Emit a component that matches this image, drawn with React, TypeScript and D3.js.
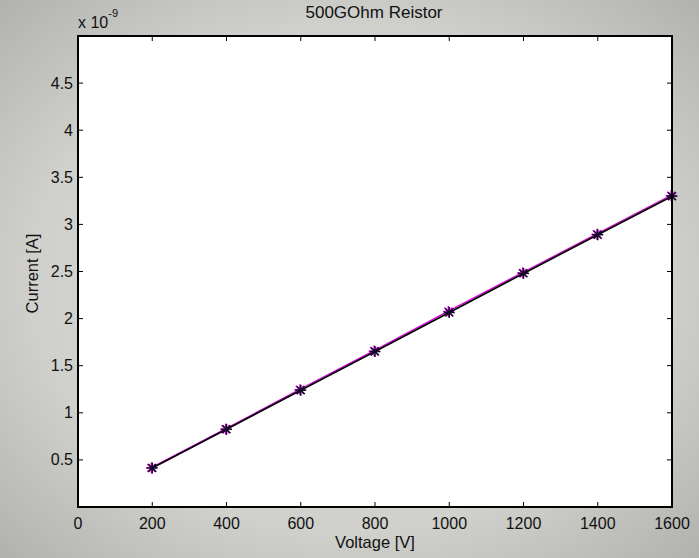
import React from "react";
import * as d3 from "d3";

const voltages = [200, 400, 600, 800, 1000, 1200, 1400, 1600];
const currentMeasured = [0.41, 0.82, 1.24, 1.65, 2.07, 2.48, 2.89, 3.30];
const currentFit = [0.415, 0.825, 1.24, 1.65, 2.065, 2.48, 2.89, 3.30];
const xTicks = [0, 200, 400, 600, 800, 1000, 1200, 1400, 1600];
const yTicks = [0.5, 1, 1.5, 2, 2.5, 3, 3.5, 4, 4.5];

const W = 699, H = 558;
const L = 78, R = 672, T = 36, B = 507;

function Star({ cx, cy, color, w }: { cx: number; cy: number; color: string; w: number }) {
  const r = 5.5;
  const d = r * 0.72;
  return (
    <g stroke={color} strokeWidth={w}>
      <line x1={cx - r} y1={cy} x2={cx + r} y2={cy} />
      <line x1={cx} y1={cy - r} x2={cx} y2={cy + r} />
      <line x1={cx - d} y1={cy - d} x2={cx + d} y2={cy + d} />
      <line x1={cx - d} y1={cy + d} x2={cx + d} y2={cy - d} />
    </g>
  );
}

export default function App() {
  const x = d3.scaleLinear().domain([0, 1600]).range([L, R]);
  const y = d3.scaleLinear().domain([0, 5]).range([B, T]);
  const line = d3
    .line<number>()
    .x((_, i) => x(voltages[i]))
    .y((v) => y(v));
  const font = "'Liberation Sans', Arial, sans-serif";
  const tick = 5;
  return (
    <div style={{ position: "absolute", left: 0, top: 0 }}>
      <svg width={W} height={H} style={{ display: "block" }}>
        <defs>
          <radialGradient id="bg" cx="50%" cy="50%" r="75%">
            <stop offset="0%" stopColor="#d8d8d4" />
            <stop offset="60%" stopColor="#d0d0cc" />
            <stop offset="100%" stopColor="#acacaa" />
          </radialGradient>
        </defs>
        <rect x={0} y={0} width={W} height={H} fill="url(#bg)" />
        <rect x={L} y={T} width={R - L} height={B - T} fill="#ffffff" />

        {/* ticks */}
        <g stroke="#000" strokeWidth={1}>
          {xTicks.map((t) => (
            <g key={"xt" + t}>
              <line x1={x(t)} x2={x(t)} y1={B} y2={B - tick} />
              <line x1={x(t)} x2={x(t)} y1={T} y2={T + tick} />
            </g>
          ))}
          {yTicks.map((t) => (
            <g key={"yt" + t}>
              <line x1={L} x2={L + tick} y1={y(t)} y2={y(t)} />
              <line x1={R} x2={R - tick} y1={y(t)} y2={y(t)} />
            </g>
          ))}
        </g>

        {/* data */}
        <path d={line(currentMeasured) || ""} fill="none" stroke="#e000e0" strokeWidth={1.3} transform="translate(-0.9,-0.9)" />
        {voltages.map((v, i) => (
          <Star key={"m" + v} cx={x(v) - 0.9} cy={y(currentMeasured[i]) - 0.5} color="#e000e0" w={1.4} />
        ))}
        <path d={line(currentFit) || ""} fill="none" stroke="#000000" strokeWidth={1.7} />
        {voltages.map((v, i) => (
          <Star key={"f" + v} cx={x(v)} cy={y(currentFit[i])} color="#120828" w={1.5} />
        ))}

        {/* frame */}
        <rect x={L} y={T} width={R - L} height={B - T} fill="none" stroke="#000" strokeWidth={2} />

        {/* tick labels */}
        <g fontFamily={font} fontSize={16} fill="#111">
          {xTicks.map((t) => (
            <text key={"xl" + t} x={x(t)} y={529} textAnchor="middle">
              {t}
            </text>
          ))}
          {yTicks.map((t) => (
            <text key={"yl" + t} x={L - 5} y={y(t) + 5.5} textAnchor="end">
              {String(t)}
            </text>
          ))}
        </g>

        {/* exponent */}
        <text x={L} y={28} fontFamily={font} fontSize={16} fill="#111">
          x 10
          <tspan dy={-11} fontSize={11}>-9</tspan>
        </text>

        {/* title */}
        <text x={374} y={18} textAnchor="middle" fontFamily={font} fontSize={17} fill="#111">
          500GOhm Reistor
        </text>

        {/* axis labels */}
        <text x={(L + R) / 2} y={548} textAnchor="middle" fontFamily={font} fontSize={16.5} fill="#111">
          Voltage [V]
        </text>
        <text
          transform={`translate(38,${(T + B) / 2 + 2}) rotate(-90)`}
          textAnchor="middle"
          fontFamily={font}
          fontSize={16.5}
          fill="#111"
        >
          Current [A]
        </text>
      </svg>
    </div>
  );
}
